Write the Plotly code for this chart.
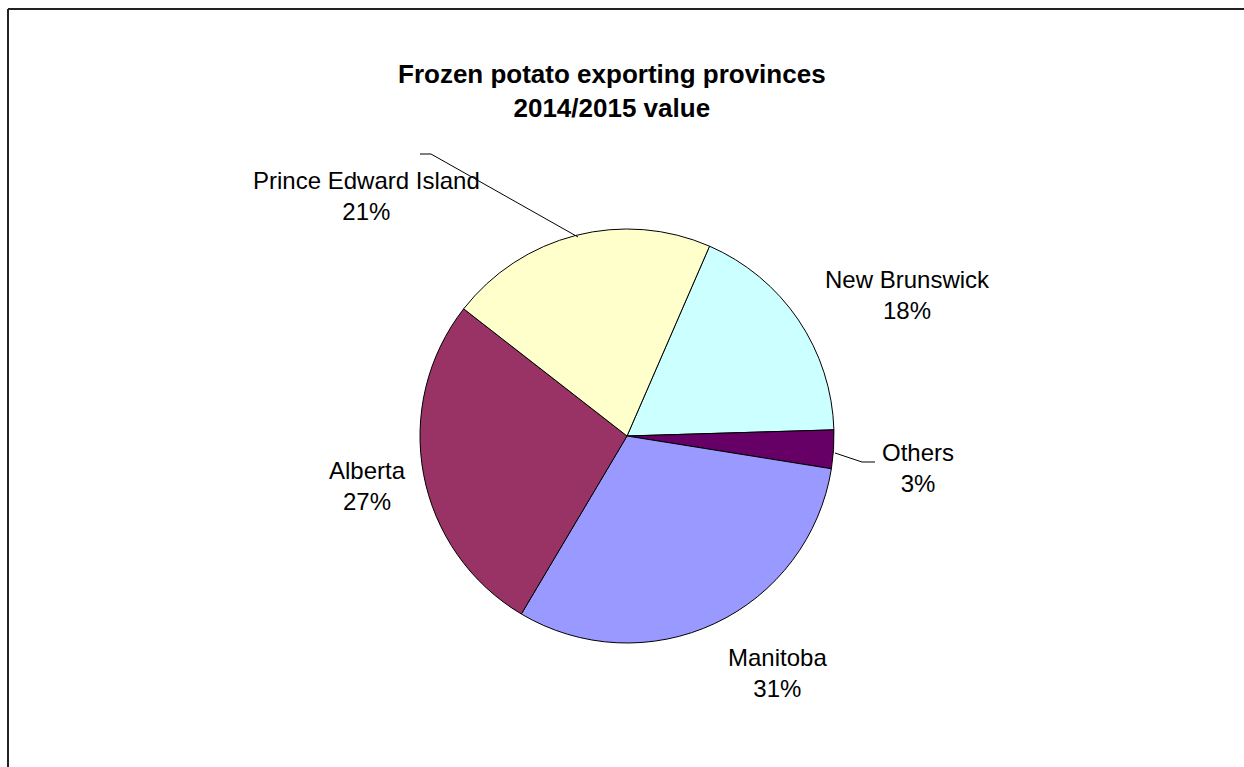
import plotly.graph_objects as go

W, H = 1244, 767

provinces = ["New Brunswick", "Others", "Manitoba", "Alberta", "Prince Edward Island"]
shares = [18, 3, 31, 27, 21]
colors = ["#CCFFFF", "#660066", "#9999FF", "#993366", "#FFFFCC"]

# where each label block sits (pixel centres)
label_pos = {
    "New Brunswick": (907, 295),
    "Others": (918, 468),
    "Manitoba": (777, 673),
    "Alberta": (367, 486),
    "Prince Edward Island": (366, 196),
}


def px(x, y):
    return x / W, 1 - y / H


cx, cy, r = 627, 436, 207

fig = go.Figure(
    go.Pie(
        labels=provinces,
        values=shares,
        sort=False,
        direction="clockwise",
        rotation=23.5,
        textinfo="none",
        hoverinfo="label+percent",
        marker=dict(colors=colors, line=dict(color="#000000", width=1)),
        domain=dict(x=[(cx - r) / W, (cx + r) / W], y=[1 - (cy + r) / H, 1 - (cy - r) / H]),
        showlegend=False,
    )
)

total = sum(shares)
annotations = []
for name, v in zip(provinces, shares):
    x, y = px(*label_pos[name])
    annotations.append(dict(
        x=x, y=y, xref="paper", yref="paper",
        text=f"{name}<br>{v / total * 100:.0f}%",
        showarrow=False, xanchor="center", yanchor="middle",
        font=dict(family="Liberation Sans, Arial", size=24, color="#000000"),
    ))

tx, ty = px(612, 91)
annotations.append(dict(
    x=tx, y=ty, xref="paper", yref="paper",
    text="<b>Frozen potato exporting provinces<br>2014/2015 value</b>",
    showarrow=False, xanchor="center", yanchor="middle",
    font=dict(family="Liberation Sans, Arial", size=26, color="#000000"),
))


def seg(p0, p1, color="#000000", width=1):
    x0, y0 = px(*p0)
    x1, y1 = px(*p1)
    return dict(type="line", xref="paper", yref="paper", x0=x0, y0=y0, x1=x1, y1=y1,
                line=dict(color=color, width=width))


shapes = [
    # leader lines
    seg((420, 154), (431, 154)),
    seg((431, 154), (578, 237)),
    seg((835, 453), (862, 462)),
    seg((862, 462), (875, 462)),
    # chart frame (runs off the right and bottom edges)
    seg((8, 9), (1260, 9), "#222222", 2),
    seg((8, 9), (8, 800), "#222222", 2),
]

fig.update_layout(
    width=W,
    height=H,
    margin=dict(l=0, r=0, t=0, b=0),
    paper_bgcolor="#FFFFFF",
    plot_bgcolor="#FFFFFF",
    annotations=annotations,
    shapes=shapes,
)

fig.write_html(
    "out.html",
    config={"displayModeBar": False},
    post_script="document.body.style.margin='0';document.body.style.overflow='hidden';",
)
